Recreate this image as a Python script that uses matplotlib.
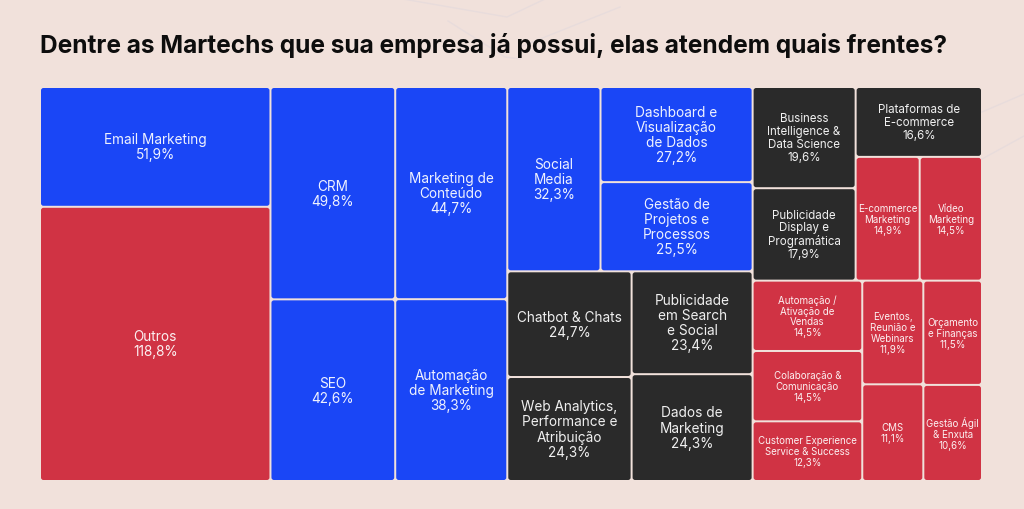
#!/usr/bin/env python3
"""Treemap: which fronts the martechs already owned by the company cover."""

import matplotlib

matplotlib.use("Agg")
import matplotlib.pyplot as plt
from matplotlib.patches import FancyBboxPatch

BG = "#f1e1db"
PALETTE = {"blue": "#1a46f6", "red": "#d03344", "dark": "#2a2a2a"}

TITLE = "Dentre as Martechs que sua empresa já possui, elas atendem quais frentes?"

labels = [
    "Email Marketing", "Outros", "CRM", "SEO",
    "Marketing de\nConteúdo", "Automação\nde Marketing", "Social\nMedia",
    "Dashboard e\nVisualização\nde Dados", "Gestão de\nProjetos e\nProcessos",
    "Chatbot & Chats", "Web Analytics,\nPerformance e\nAtribuição",
    "Publicidade\nem Search\ne Social", "Dados de\nMarketing",
    "Business\nIntelligence &\nData Science", "Publicidade\nDisplay e\nProgramática",
    "Plataformas de\nE-commerce", "E-commerce\nMarketing", "Vídeo\nMarketing",
    "Automação /\nAtivação de\nVendas", "Colaboração &\nComunicação",
    "Customer Experience\nService & Success", "Eventos,\nReunião e\nWebinars",
    "CMS", "Orçamento\ne Finanças", "Gestão Ágil\n& Enxuta",
]
values = [
    51.9, 118.8, 49.8, 42.6, 44.7, 38.3, 32.3, 27.2, 25.5, 24.7, 24.3, 23.4,
    24.3, 19.6, 17.9, 16.6, 14.9, 14.5, 14.5, 14.5, 12.3, 11.9, 11.1, 11.5, 10.6,
]
groups = [
    "blue", "red", "blue", "blue", "blue", "blue", "blue", "blue", "blue",
    "dark", "dark", "dark", "dark", "dark", "dark", "dark",
    "red", "red", "red", "red", "red", "red", "red", "red", "red",
]

# how the cells are nested: "h" splits left-to-right, "v" top-to-bottom
TREE = ("h", [
    ("v", [0, 1]),
    ("v", [2, 3]),
    ("v", [4, 5]),
    ("h", [
        ("v", [("h", [6, ("v", [7, 8])]),
               ("h", [("v", [9, 10]), ("v", [11, 12])])]),
        ("v", [("h", [("v", [13, 14]), ("v", [15, ("h", [16, 17])])]),
               ("h", [("v", [18, 19, 20]), ("v", [21, 22]), ("v", [23, 24])])]),
    ]),
])

# treemap area in pixel coordinates
X0, Y0, X1, Y1 = 40, 88, 982, 482
GAP = 2.0
TITLE_WIDTH = 910


def node_total(node):
    if isinstance(node, int):
        return values[node]
    return sum(node_total(c) for c in node[1])


def layout(node, x, y, w, h, out):
    if isinstance(node, int):
        out[node] = (x, y, w, h)
        return
    direction, children = node
    total = node_total(node)
    pos = 0.0
    for child in children:
        frac = node_total(child) / total
        if direction == "h":
            layout(child, x + pos * w, y, w * frac, h, out)
        else:
            layout(child, x, y + pos * h, w, h * frac, out)
        pos += frac


def label_size(v):
    if v >= 23:
        return 9.8
    if v >= 16:
        return 8.3
    return 7.0


def main():
    rects = {}
    layout(TREE, X0, Y0, X1 - X0, Y1 - Y0, rects)

    fig = plt.figure(figsize=(10.24, 5.10), dpi=100)
    fig.patch.set_facecolor(BG)
    ax = fig.add_axes([0, 0, 1, 1])
    ax.set_xlim(0, 1024)
    ax.set_ylim(510, 0)
    ax.axis("off")

    # faint background ornaments
    deco = "#e8dcdc"
    for xs, ys in [
        ([403, 507, 545], [0, 18, 0]),
        ([448, 505, 520], [22, 58, 60]),
        ([620, 560, 520], [8, 32, 48]),
        ([982, 1024], [113, 95]),
        ([982, 1024], [160, 137]),
    ]:
        ax.plot(xs, ys, color=deco, lw=1.0, zorder=0)

    renderer = fig.canvas.get_renderer()
    title = fig.text(40 / 1024, 1 - 46 / 510, TITLE, fontsize=16, fontweight="bold",
                     family="Inter", color="#0d0d0d", va="center", ha="left")
    tb = title.get_window_extent(renderer)
    title.set_fontsize(16 * TITLE_WIDTH / tb.width)

    for i, (x, y, w, h) in rects.items():
        patch = FancyBboxPatch(
            (x + GAP / 2, y + GAP / 2), w - GAP, h - GAP,
            boxstyle="round,pad=0,rounding_size=2.5",
            facecolor=PALETTE[groups[i]], edgecolor="none", zorder=2,
        )
        ax.add_patch(patch)
        pct = f"{values[i]:.1f}%".replace(".", ",")
        size = label_size(values[i])
        txt = ax.text(x + w / 2, y + h / 2, f"{labels[i]}\n{pct}",
                      ha="center", va="center", multialignment="center",
                      fontsize=size, family="Inter", color="white", alpha=0.93,
                      linespacing=1.1, zorder=3)
        # shrink labels that would not fit inside their cell
        bb = txt.get_window_extent(renderer)
        if bb.width > w - 4:
            txt.set_fontsize(size * (w - 4) / bb.width)

    fig.savefig("out.png", dpi=100, facecolor=BG)
    plt.close(fig)


if __name__ == "__main__":
    main()
